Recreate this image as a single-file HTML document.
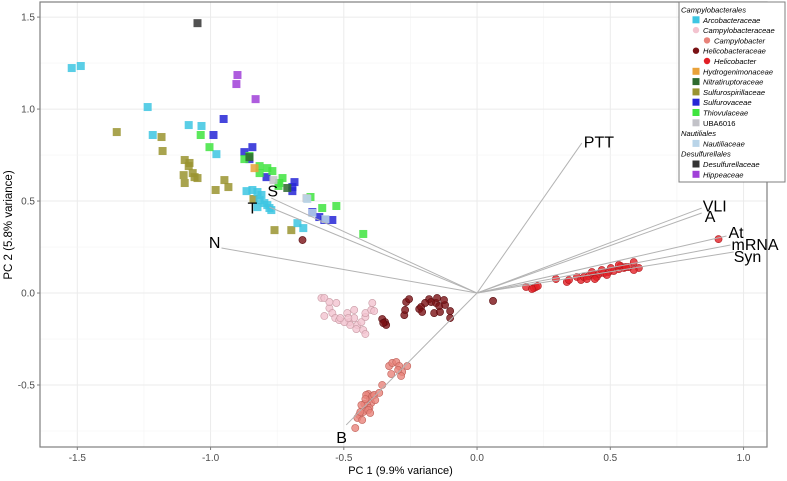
<!DOCTYPE html>
<html><head><meta charset="utf-8"><style>
body{margin:0;background:#fff;font-family:"Liberation Sans",sans-serif}
svg{display:block}
</style></head><body>
<svg id="chart" width="787" height="481" xmlns="http://www.w3.org/2000/svg"></svg>
<script>
const xTicks=[-1.5,-1.0,-0.5,0.0,0.5,1.0];
const yTicks=[-0.5,0.0,0.5,1.0,1.5];
const xTickLabels=["-1.5","-1.0","-0.5","0.0","0.5","1.0"];
const yTickLabels=["-0.5","0.0","0.5","1.0","1.5"];
const arcoX=[-1.521,-1.487,-1.236,-1.082,-1.034,-1.217,-0.978,-0.865,-0.843,-0.824,-0.809,-0.798,-0.787,-0.779,-0.824,-0.772,-0.816,-0.674,-0.652];
const arcoY=[1.223,1.234,1.011,0.913,0.908,0.859,0.755,0.554,0.560,0.549,0.533,0.489,0.478,0.462,0.467,0.451,0.505,0.380,0.353];
const campyaceaeX=[-0.584,-0.573,-0.528,-0.554,-0.573,-0.543,-0.532,-0.517,-0.487,-0.479,-0.461,-0.449,-0.453,-0.427,-0.434,-0.419,-0.419,-0.397,-0.393,-0.386,-0.476,-0.498,-0.483,-0.461,-0.554,-0.419,-0.513];
const campyaceaeY=[-0.027,-0.027,-0.054,-0.082,-0.125,-0.109,-0.136,-0.147,-0.109,-0.158,-0.136,-0.174,-0.196,-0.201,-0.158,-0.130,-0.109,-0.092,-0.054,-0.098,-0.174,-0.158,-0.136,-0.092,-0.049,-0.223,-0.136];
const helicoaceaeX=[-0.356,-0.345,-0.341,-0.352,-0.273,-0.270,-0.266,-0.255,-0.217,-0.210,-0.180,-0.172,-0.154,-0.142,-0.120,-0.101,-0.101,-0.124,-0.161,-0.139,-0.150,-0.195,-0.206,-0.655,0.060];
const helicoaceaeY=[-0.141,-0.158,-0.174,-0.163,-0.120,-0.092,-0.049,-0.033,-0.087,-0.076,-0.033,-0.049,-0.054,-0.071,-0.065,-0.098,-0.136,-0.038,-0.109,-0.103,-0.027,-0.054,-0.103,0.288,-0.043];
const campyX=[-0.330,-0.318,-0.303,-0.292,-0.281,-0.285,-0.296,-0.262,-0.322,-0.356,-0.408,-0.416,-0.401,-0.397,-0.412,-0.404,-0.419,-0.427,-0.442,-0.449,-0.431,-0.457,-0.423,-0.393,-0.386,-0.367,-0.419,-0.438,-0.408,-0.401,-0.382,-0.434];
const campyY=[-0.397,-0.380,-0.375,-0.397,-0.429,-0.451,-0.418,-0.397,-0.440,-0.500,-0.549,-0.554,-0.576,-0.598,-0.609,-0.625,-0.636,-0.647,-0.663,-0.679,-0.690,-0.734,-0.603,-0.560,-0.554,-0.543,-0.576,-0.647,-0.636,-0.652,-0.582,-0.609];
const heliX=[0.184,0.213,0.221,0.228,0.206,0.296,0.337,0.345,0.375,0.390,0.401,0.419,0.438,0.457,0.476,0.494,0.513,0.468,0.431,0.412,0.449,0.487,0.502,0.442,0.532,0.551,0.569,0.607,0.539,0.588,0.532,0.558,0.588,0.906];
const heliY=[0.033,0.027,0.033,0.038,0.022,0.076,0.060,0.071,0.087,0.071,0.087,0.092,0.098,0.103,0.109,0.114,0.120,0.125,0.114,0.076,0.087,0.098,0.136,0.076,0.130,0.136,0.141,0.136,0.147,0.125,0.152,0.141,0.168,0.293];
const sulfspX=[-1.352,-1.184,-1.180,-1.097,-1.079,-1.082,-1.101,-1.067,-1.049,-1.060,-1.097,-0.948,-0.933,-0.981,-0.760,-0.697,-0.839];
const sulfspY=[0.875,0.848,0.772,0.723,0.707,0.690,0.641,0.652,0.625,0.630,0.598,0.614,0.576,0.560,0.342,0.342,0.511];
const sulfovX=[-0.951,-0.989,-0.873,-0.843,-0.854,-0.790,-0.685,-0.693,-0.693,-0.618,-0.592,-0.573,-0.543];
const sulfovY=[0.946,0.859,0.766,0.793,0.728,0.630,0.603,0.576,0.554,0.440,0.413,0.397,0.397];
const thioX=[-1.037,-1.004,-0.873,-0.854,-0.816,-0.816,-0.787,-0.768,-0.730,-0.742,-0.745,-0.625,-0.581,-0.528,-0.427];
const thioY=[0.859,0.793,0.728,0.745,0.690,0.652,0.679,0.663,0.625,0.598,0.582,0.522,0.462,0.473,0.321];
const hydroX=[-0.835], hydroY=[0.679];
const nitraX=[-0.854,-0.712], nitraY=[0.739,0.571];
const ubaX=[-0.764,-0.640], ubaY=[0.614,0.516];
const nautX=[-0.637,-0.618,-0.569], nautY=[0.511,0.435,0.402];
const desulfX=[-1.049], desulfY=[1.467];
const hippX=[-0.899,-0.903,-0.831], hippY=[1.185,1.136,1.054];
const loadNames=["PTT","VLI","A","At","mRNA","Syn","N","S","T","B"];
const loadX=[0.393,0.843,0.843,0.936,0.951,0.963,-0.959,-0.772,-0.779,-0.491];
const loadY=[0.815,0.462,0.435,0.310,0.261,0.223,0.245,0.516,0.467,-0.717];

const NS="http://www.w3.org/2000/svg";
const svg=document.getElementById('chart');
const L=40,R=767,T=2,B=447,x0=-1.640,x1=1.088,y0=-0.837,y1=1.582;
const sx=v=>L+(v-x0)/(x1-x0)*(R-L);
const sy=v=>B-(v-y0)/(y1-y0)*(B-T);
function mk(tag,attrs,parent){const e=document.createElementNS(NS,tag);for(const k in attrs)e.setAttribute(k,attrs[k]);(parent||svg).appendChild(e);return e;}

const bg=mk('rect',{x:L,y:T,width:R-L,height:B-T,fill:'#fff'});


for(let v=-1.5;v<=1.0001;v+=0.25){const major=Math.abs(v*2-Math.round(v*2))<1e-6;const g=mk('line',{x1:sx(v),x2:sx(v),y1:T,y2:B,stroke:major?'#ebebeb':'#f4f4f4','stroke-width':major?1:0.6});

}
for(let v=-0.75;v<=1.5001;v+=0.25){const major=Math.abs(v*2-Math.round(v*2))<1e-6;const g=mk('line',{x1:L,x2:R,y1:sy(v),y2:sy(v),stroke:major?'#ebebeb':'#f4f4f4','stroke-width':major?1:0.6});

}

function pts(xs,ys,shape,fill,stroke,name){
  const g=mk('g',{});
  
  
  xs.forEach((x,i)=>{let e;
    if(shape==='sq') e=mk('rect',{x:sx(x)-4,y:sy(ys[i])-4,width:8,height:8,fill:fill,'fill-opacity':0.85},g);
    else e=mk('circle',{cx:sx(x),cy:sy(ys[i]),r:3.6,fill:fill,'fill-opacity':0.8,stroke:stroke,'stroke-width':0.6},g);
    
    
  });
}
pts(sulfspX,sulfspY,'sq','#9a9430','', 'sulfurospirillaceae-series');
pts(arcoX,arcoY,'sq','#3dc6e2','', 'arcobacteraceae-series');
pts(sulfovX,sulfovY,'sq','#2626d6','', 'sulfurovaceae-series');
pts(thioX,thioY,'sq','#3fe43f','', 'thiovulaceae-series');
pts(hydroX,hydroY,'sq','#e9a23a','', 'hydrogenimonaceae-series');
pts(nitraX,nitraY,'sq','#2e6a2e','', 'nitratiruptoraceae-series');
pts(ubaX,ubaY,'sq','#c2c2c8','', 'uba6016-series');
pts(nautX,nautY,'sq','#b9d4e8','', 'nautiliaceae-series');
pts(desulfX,desulfY,'sq','#333333','', 'desulfurellaceae-series');
pts(hippX,hippY,'sq','#a040d8','', 'hippeaceae-series');
pts(campyaceaeX,campyaceaeY,'ci','#f3c3cf','#c89aa4','campylobacteraceae-series');
pts(helicoaceaeX,helicoaceaeY,'ci','#7a1215','#5a0d10','helicobacteraceae-series');
pts(campyX,campyY,'ci','#e8837a','#c0625a','campylobacter-series');
pts(heliX,heliY,'ci','#e21f26','#b0181d','helicobacter-series');

const offs={PTT:[2,0,'start'],VLI:[1,-1,'start'],A:[3,5,'start'],At:[2,-2,'start'],mRNA:[1,1,'start'],Syn:[0,6,'start'],N:[-1,-4,'end'],S:[-4,-6,'start'],T:[-22,2,'start'],B:[-10,14,'start']};
loadNames.forEach((n,i)=>{
  const ln=mk('line',{x1:sx(0),y1:sy(0),x2:sx(loadX[i]),y2:sy(loadY[i]),stroke:'#b3b3b3','stroke-width':1});
  
  
  const o=offs[n];
  const t=mk('text',{x:sx(loadX[i])+o[0],y:sy(loadY[i])+o[1],'font-size':16,'text-anchor':o[2],'dominant-baseline':'middle',fill:'#000'});
  t.textContent=n;
  
  
});

const bd=mk('rect',{x:L,y:T,width:R-L,height:B-T,fill:'none',stroke:'#7f7f7f','stroke-width':1.2});


xTicks.forEach((v,i)=>{
  const tk=mk('line',{x1:sx(v),x2:sx(v),y1:B,y2:B+3,stroke:'#7f7f7f'});
  
  
  const t=mk('text',{x:sx(v),y:B+14,'font-size':10,'text-anchor':'middle',fill:'#4d4d4d'});
  t.textContent=xTickLabels[i];
  
  
});
yTicks.forEach((v,i)=>{
  const tk=mk('line',{x1:L-3,x2:L,y1:sy(v),y2:sy(v),stroke:'#7f7f7f'});
  
  
  const t=mk('text',{x:L-5,y:sy(v)+3.5,'font-size':10,'text-anchor':'end',fill:'#4d4d4d'});
  t.textContent=yTickLabels[i];
  
  
});
const xt=mk('text',{x:(L+R)/2-3,y:474,'font-size':11,'text-anchor':'middle',fill:'#000'});
xt.textContent='PC 1 (9.9% variance)';


const yt=mk('text',{x:0,y:0,'font-size':11.5,'text-anchor':'middle',fill:'#000',transform:'translate(12,225) rotate(-90)'});
yt.textContent='PC 2 (5.8% variance)';



const lg=mk('g',{});


mk('rect',{x:679,y:2,width:106,height:180,fill:'#fff',stroke:'#7f7f7f','stroke-width':1},lg);
const legendItems=[
 ['h','Campylobacterales'],['sq','Arcobacteraceae','#3dc6e2',1],['ci','Campylobacteraceae','#f3c3cf',1],['ci','Campylobacter','#e8837a',2],
 ['ci','Helicobacteraceae','#7a1215',1],['ci','Helicobacter','#e21f26',2],['sq','Hydrogenimonaceae','#e9a23a',1],['sq','Nitratiruptoraceae','#2e6a2e',1],
 ['sq','Sulfurospirillaceae','#9a9430',1],['sq','Sulfurovaceae','#2626d6',1],['sq','Thiovulaceae','#3fe43f',1],['sq','UBA6016','#c2c2c8',1,true],
 ['h','Nautiliales'],['sq','Nautiliaceae','#b9d4e8',1],['h','Desulfurellales'],['sq','Desulfurellaceae','#333333',1],['sq','Hippeaceae','#a040d8',1]];
legendItems.forEach((it,i)=>{
  const y=9.5+i*10.3;
  const e=mk('g',{},lg);
  
  
  if(it[0]==='h'){const t=mk('text',{x:681,y:y+3,'font-size':7.6,'font-style':'italic',fill:'#000'},e);t.textContent=it[1];return;}
  const sxp=it[3]===1?696:707;
  if(it[0]==='sq') mk('rect',{x:sxp-3.5,y:y-3.5,width:7,height:7,fill:it[2]},e);
  else mk('circle',{cx:sxp,cy:y,r:3.2,fill:it[2]},e);
  const t=mk('text',{x:sxp+7,y:y+3,'font-size':7.6,'font-style':it[4]?'normal':'italic',fill:'#000'},e);
  t.textContent=it[1];
});
</script>
</body></html>
